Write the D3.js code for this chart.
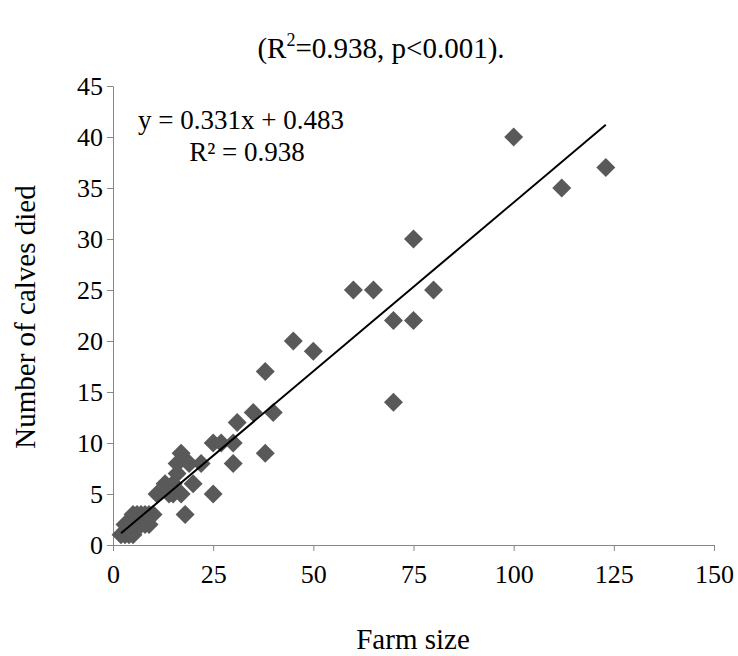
<!DOCTYPE html>
<html>
<head>
<meta charset="utf-8">
<script src="https://cdn.jsdelivr.net/npm/d3@7"></script>
<style>
  body { margin: 0; background: #fff; }
</style>
</head>
<body>
<div id="chart"></div>
<script>
// farm size vs number of calves died
let farmSize = [2, 3, 3, 4, 4, 5, 5, 5, 6, 7, 7, 8, 8, 9, 9, 10,
	11, 13, 14, 15, 15, 16, 16, 17, 17, 18, 19, 20, 22, 25, 25, 27,
	30, 30, 31, 35, 38, 38, 40, 45, 50, 60, 65, 70, 70, 75, 75, 80,
	100, 112, 123];
let calvesDied = [1, 1, 2, 1, 2, 1, 2, 3, 3, 2, 3, 2, 3, 2, 3, 3,
	5, 6, 5, 5, 6, 7, 8, 5, 9, 3, 8, 6, 8, 5, 10, 10,
	8, 10, 12, 13, 9, 17, 13, 20, 19, 25, 25, 14, 22, 22, 30, 25,
	40, 35, 37];

let xTicks = [0, 25, 50, 75, 100, 125, 150];
let yTicks = [0, 5, 10, 15, 20, 25, 30, 35, 40, 45];

// linear trend shown on the chart
let slope = 0.331,
	intercept = 0.483;

let width = 738,
	height = 656,
	serif = "'Liberation Serif', 'Times New Roman', 'DejaVu Serif', serif";

let svg = d3.select("#chart").append("svg")
	.attr("width", width)
	.attr("height", height);

let x = d3.scaleLinear().domain([0, 150]).range([113, 714]);
let y = d3.scaleLinear().domain([0, 45]).range([545, 86]);

let axisCol = "#868686";

// y axis
let yAxis = svg.append("g")
	.attr("transform", `translate(${x(0)},0)`)
	.call(d3.axisLeft(y).tickValues(yTicks).tickSize(6).tickSizeOuter(0).tickPadding(4));
yAxis.select(".domain").attr("stroke", axisCol);
yAxis.selectAll(".tick line").attr("stroke", axisCol);
yAxis.selectAll(".tick text").attr("dy", "0.34em");

// x axis
let xAxis = svg.append("g")
	.attr("transform", `translate(0,${y(0)})`)
	.call(d3.axisBottom(x).tickValues(xTicks).tickSize(6).tickSizeOuter(0).tickPadding(14));
xAxis.select(".domain").attr("stroke", axisCol);
xAxis.selectAll(".tick line").attr("stroke", axisCol);

svg.selectAll(".tick text")
	.style("font-family", serif)
	.style("font-size", "26px")
	.style("fill", "#000");

// points
let points = farmSize.map((d, i) => ({x: d, y: calvesDied[i]}));
let diamond = d3.symbol().type(d3.symbolSquare).size(180);

svg.append("g").selectAll("path")
	.data(points)
	.join("path")
	.attr("d", diamond)
	.attr("transform", d => `translate(${x(d.x)},${y(d.y)}) rotate(45)`)
	.attr("fill", "#595959");

// trend line
let xMin = d3.min(farmSize),
	xMax = d3.max(farmSize);
svg.append("line")
	.attr("x1", x(xMin))
	.attr("y1", y(slope * xMin + intercept))
	.attr("x2", x(xMax))
	.attr("y2", y(slope * xMax + intercept))
	.attr("stroke", "#000")
	.attr("stroke-width", 2);

function label(txt, size) {
	return svg.append("text")
		.attr("text-anchor", "middle")
		.style("font-family", serif)
		.style("font-size", size + "px")
		.style("fill", "#000")
		.text(txt);
}

// equation
label(`y = ${slope}x + ${intercept}`, 27).attr("x", 241).attr("y", 129);
label("R² = 0.938", 27).attr("x", 247).attr("y", 161);

// title
let title = label("", 29).attr("x", 381).attr("y", 58);
title.append("tspan").text("(R");
title.append("tspan").style("font-size", "18px").attr("dy", -12).text("2");
title.append("tspan").attr("dy", 12).text("=0.938, p<0.001).");

// axis titles
label("Farm size", 29).attr("x", 413).attr("y", 649);
label("Number of calves died", 29).attr("transform", "translate(35,317) rotate(-90)");
</script>
</body>
</html>
